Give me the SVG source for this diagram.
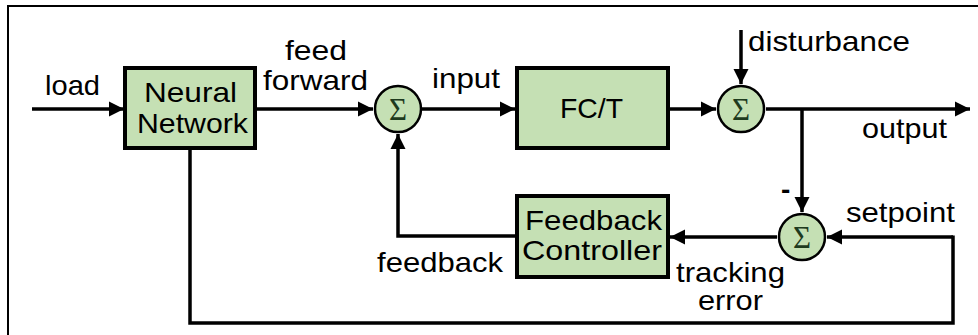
<svg xmlns="http://www.w3.org/2000/svg" width="978" height="335" viewBox="0 0 978 335">
<style>
.t{font-family:"Liberation Sans",Arial,sans-serif;font-size:28px;fill:#000}
.box{fill:#c5e0b4;stroke:#000;stroke-width:4}
.sum{fill:#c5e0b4;stroke:#000;stroke-width:2.5}
.sig{font-family:"Liberation Serif","Times New Roman",serif;font-size:31px;fill:#1e3a1e;text-anchor:middle}
.ln{fill:none;stroke:#000;stroke-width:3.5}
.ar{marker-end:url(#ah)}
</style>
<defs>
<marker id="ah" markerUnits="userSpaceOnUse" markerWidth="16" markerHeight="16" refX="15" refY="8" orient="auto">
<path d="M0,0.5 L15,8 L0,15.5 z" fill="#000"/>
</marker>
</defs>
<rect x="8" y="6" width="1000" height="400" fill="#fff" stroke="#000" stroke-width="2"/>
<g id="connectors">
<path class="ln ar" d="M32,109 H124"/>
<path class="ln ar" d="M256,109 H373"/>
<path class="ln ar" d="M422,109 H515"/>
<path class="ln ar" d="M669,109 H716"/>
<path class="ln ar" d="M766,109 H970"/>
<path class="ln ar" d="M741,30 V84"/>
<path class="ln ar" d="M802,109 V212"/>
<path class="ln ar" d="M953,237 H827"/>
<path class="ln ar" d="M777,237 H670"/>
<path class="ln ar" d="M516,236 H398 V134"/>
<path class="ln" d="M190,149 V323 H953 V235.5"/>
</g>
<g id="nn">
<rect class="box" x="125" y="68" width="130" height="80"/>
<text class="t" x="144" y="102" textLength="93" lengthAdjust="spacingAndGlyphs">Neural</text>
<text class="t" x="137" y="133" textLength="111" lengthAdjust="spacingAndGlyphs">Network</text>
</g>
<g id="fct">
<rect class="box" x="517" y="68" width="151" height="80"/>
<text class="t" x="560" y="118" textLength="63" lengthAdjust="spacingAndGlyphs">FC/T</text>
</g>
<g id="fbc">
<rect class="box" x="517" y="196" width="151" height="81"/>
<text class="t" x="525" y="230" textLength="137" lengthAdjust="spacingAndGlyphs">Feedback</text>
<text class="t" x="522" y="260" textLength="140" lengthAdjust="spacingAndGlyphs">Controller</text>
</g>
<g id="sum1">
<circle class="sum" cx="398" cy="109" r="23"/>
<text class="sig" x="398" y="119.5">Σ</text>
</g>
<g id="sum2">
<circle class="sum" cx="741" cy="109" r="23"/>
<text class="sig" x="741" y="119.5">Σ</text>
</g>
<g id="sum3">
<circle class="sum" cx="802" cy="237" r="23"/>
<text class="sig" x="802" y="247.5">Σ</text>
</g>
<g id="labels">
<text class="t" x="45" y="95" textLength="55" lengthAdjust="spacingAndGlyphs">load</text>
<text class="t" x="285" y="60" textLength="62" lengthAdjust="spacingAndGlyphs">feed</text>
<text class="t" x="263" y="90" textLength="105" lengthAdjust="spacingAndGlyphs">forward</text>
<text class="t" x="432" y="88" textLength="68" lengthAdjust="spacingAndGlyphs">input</text>
<text class="t" x="748" y="51" textLength="162" lengthAdjust="spacingAndGlyphs">disturbance</text>
<text class="t" x="862" y="138" textLength="85" lengthAdjust="spacingAndGlyphs">output</text>
<text class="t" x="846" y="222" textLength="109" lengthAdjust="spacingAndGlyphs">setpoint</text>
<text class="t" x="676" y="282" textLength="109" lengthAdjust="spacingAndGlyphs">tracking</text>
<text class="t" x="698" y="310" textLength="65" lengthAdjust="spacingAndGlyphs">error</text>
<text class="t" x="377" y="272" textLength="126" lengthAdjust="spacingAndGlyphs">feedback</text>
<text class="t" x="781" y="199" style="font-weight:bold">-</text>
</g>
</svg>
